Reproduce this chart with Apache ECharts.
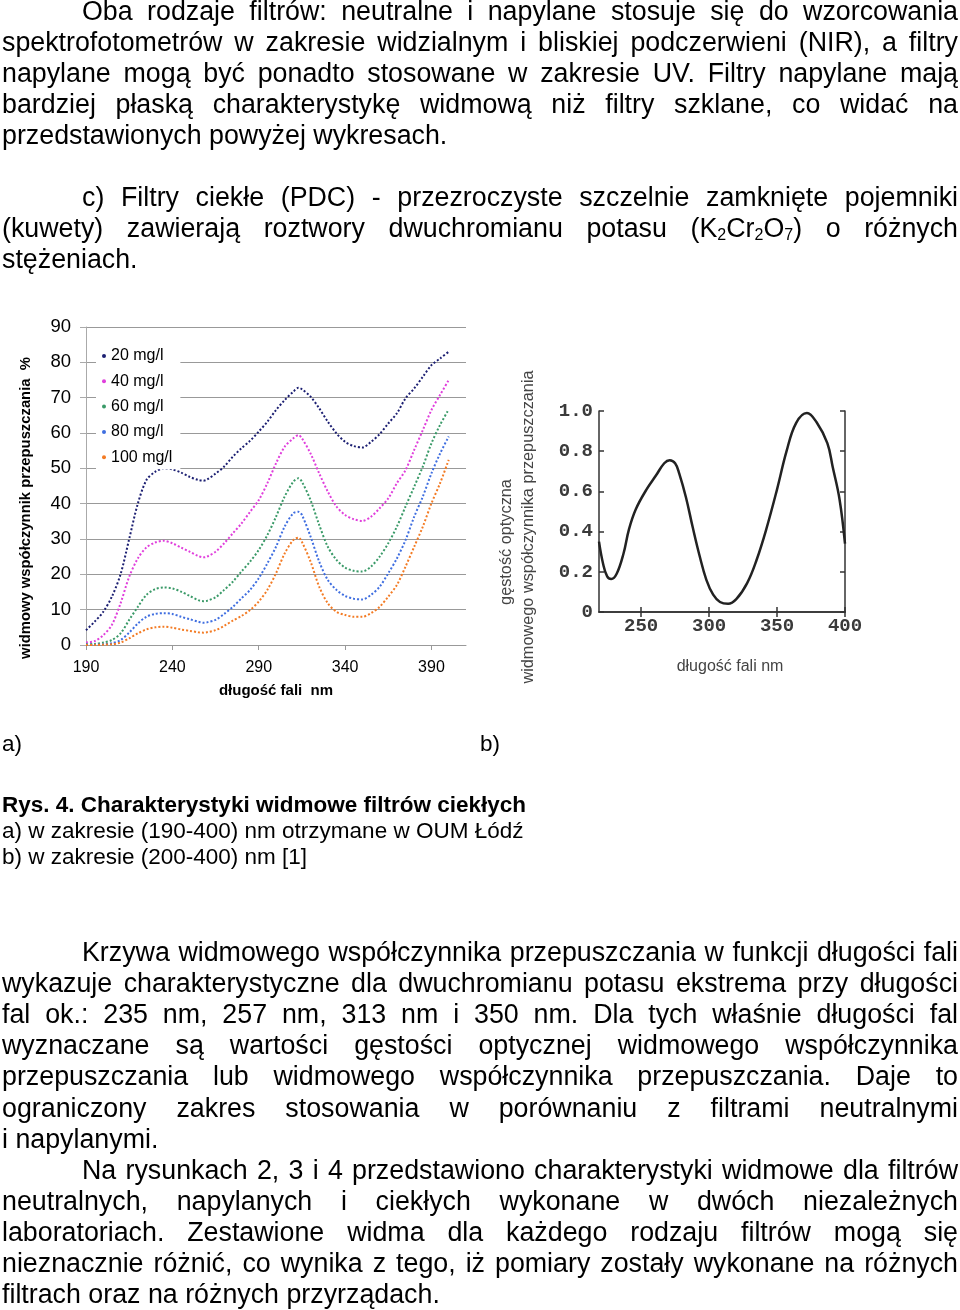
<!DOCTYPE html>
<html>
<head>
<meta charset="utf-8">
<script src="https://cdn.jsdelivr.net/npm/echarts@6/dist/echarts.min.js"></script>
<style>
html, body { margin: 0; padding: 0; background: #fff; }
#page { position: relative; width: 960px; height: 1310px; overflow: hidden; font-family: "Liberation Sans", Arial, sans-serif; color: #000; }
#chart { position: absolute; left: 0; top: 0; width: 960px; height: 1310px; }
.ln { position: absolute; left: 2px; width: 956px; font-size: 26.8px; line-height: 31px; text-align: justify; text-align-last: justify; }
.ln.ind { left: 82px; width: 876px; }
.ln.end { text-align-last: left; }
.cap { position: absolute; left: 2px; font-size: 22.5px; line-height: 26px; white-space: nowrap; }
sub { font-size: 16px; vertical-align: -3px; line-height: 0; }
</style>
</head>
<body>
<div id="page">
  <div id="chart"></div>

  <div class="ln ind" style="top:-4.5px">Oba rodzaje filtrów: neutralne i napylane stosuje się do wzorcowania</div>
  <div class="ln" style="top:26.5px">spektrofotometrów w zakresie widzialnym i bliskiej podczerwieni (NIR), a filtry</div>
  <div class="ln" style="top:57.5px">napylane mogą być ponadto stosowane w zakresie UV. Filtry napylane mają</div>
  <div class="ln" style="top:88.5px">bardziej płaską charakterystykę widmową niż filtry szklane, co widać na</div>
  <div class="ln end" style="top:119.5px">przedstawionych powyżej wykresach.</div>

  <div class="ln ind" style="top:181.5px">c) Filtry ciekłe (PDC) - przezroczyste szczelnie zamknięte pojemniki</div>
  <div class="ln" style="top:212.5px">(kuwety) zawierają roztwory dwuchromianu potasu (K<sub>2</sub>Cr<sub>2</sub>O<sub>7</sub>) o różnych</div>
  <div class="ln end" style="top:243.5px">stężeniach.</div>

  <div class="cap" style="top:731px">a)</div>
  <div class="cap" style="top:731px;left:480px">b)</div>
  <div class="cap" style="top:792px;font-weight:bold">Rys. 4. Charakterystyki widmowe filtrów ciekłych</div>
  <div class="cap" style="top:818px">a) w zakresie (190-400) nm otrzymane w OUM Łódź</div>
  <div class="cap" style="top:844px">b) w zakresie (200-400) nm [1]</div>

  <div class="ln ind" style="top:937px">Krzywa widmowego współczynnika przepuszczania w funkcji długości fali</div>
  <div class="ln" style="top:968.1px">wykazuje charakterystyczne dla dwuchromianu potasu ekstrema przy długości</div>
  <div class="ln" style="top:999.2px">fal ok.: 235 nm, 257 nm, 313 nm i 350 nm. Dla tych właśnie długości fal</div>
  <div class="ln" style="top:1030.3px">wyznaczane są wartości gęstości optycznej widmowego współczynnika</div>
  <div class="ln" style="top:1061.4px">przepuszczania lub widmowego współczynnika przepuszczania. Daje to</div>
  <div class="ln" style="top:1092.5px">ograniczony zakres stosowania w porównaniu z filtrami neutralnymi</div>
  <div class="ln end" style="top:1123.6px">i napylanymi.</div>
  <div class="ln ind" style="top:1154.7px">Na rysunkach 2, 3 i 4 przedstawiono charakterystyki widmowe dla filtrów</div>
  <div class="ln" style="top:1185.8px">neutralnych, napylanych i ciekłych wykonane w dwóch niezależnych</div>
  <div class="ln" style="top:1216.9px">laboratoriach. Zestawione widma dla każdego rodzaju filtrów mogą się</div>
  <div class="ln" style="top:1248px">nieznacznie różnić, co wynika z tego, iż pomiary zostały wykonane na różnych</div>
  <div class="ln end" style="top:1279.1px">filtrach oraz na różnych przyrządach.</div>
</div>

<script>
// a) spectra measured in OUM Lodz, transmittance % vs wavelength nm
const wavelengths = [190, 195, 200, 205, 210, 215, 220, 225, 230, 235, 240, 245, 250, 255, 258, 260, 265, 270, 275, 280, 285, 290, 295, 300, 305, 310, 313, 315, 320, 325, 330, 335, 340, 345, 350, 355, 360, 365, 370, 375, 380, 385, 390, 395, 400]
const t20 = [4.2, 6.6, 9.4, 13.7, 20, 30, 40, 46.7, 49, 50, 49.7, 48.8, 47.6, 46.7, 46.5, 46.8, 48.5, 50.5, 53.3, 55.7, 57.8, 60.4, 63.2, 66.5, 69.3, 71.7, 72.8, 72.4, 70.3, 67, 63.2, 59.9, 57.5, 56.3, 55.9, 57.5, 59.7, 62.7, 65.6, 69.8, 72.6, 75.9, 79.2, 81.1, 83]
const t40 = [0.7, 1.1, 2.8, 5.7, 11.8, 19.3, 24.5, 27.6, 29, 29.5, 28.8, 27.6, 26.4, 25.2, 24.8, 25, 26.4, 28.8, 31.6, 34.4, 37.7, 41, 45.8, 51.4, 56.1, 58.5, 59.4, 58.5, 54.2, 48.6, 43.4, 39.2, 36.8, 35.6, 35.1, 36.3, 38.7, 41.5, 45.8, 49.5, 55.2, 60.8, 66.5, 70.8, 75]
const t60 = [0.2, 0.3, 0.7, 1.4, 3.3, 7.1, 10.8, 14.2, 15.8, 16.3, 16, 15.1, 13.9, 12.7, 12.4, 12.5, 13.5, 15.6, 17.9, 20.8, 23.6, 26.9, 31.1, 36.3, 42, 46.2, 47.2, 46.2, 41, 34, 27.8, 24.1, 21.9, 21, 20.8, 22.2, 25, 28.8, 33.5, 39.2, 44.8, 50.5, 57.1, 62.3, 66.7]
const t80 = [0.1, 0.1, 0.2, 0.5, 1.4, 3.5, 6.1, 8, 8.8, 9, 8.8, 8, 7.3, 6.6, 6.3, 6.4, 7.1, 8.8, 10.8, 13.2, 15.6, 18.9, 23.1, 27.8, 33.5, 37.3, 37.7, 36.8, 30.7, 23.6, 18.4, 15.6, 13.9, 13.1, 12.9, 14.2, 16.5, 20.3, 24.5, 29.7, 36.3, 42, 48.6, 54.2, 59]
const t100 = [0, 0, 0.1, 0.2, 0.7, 1.9, 3.3, 4.4, 5, 5.2, 4.9, 4.4, 4, 3.6, 3.5, 3.6, 4.2, 5.4, 6.9, 8.2, 9.9, 12.3, 15.6, 20.3, 25.9, 29.7, 30.4, 29.2, 23.6, 16.5, 11.8, 9.4, 8.5, 8, 8, 9, 10.8, 13.7, 17, 22.2, 27.8, 33.5, 40.1, 45.8, 52.4]
const seriesNames = ['20 mg/l', '40 mg/l', '60 mg/l', '80 mg/l', '100 mg/l']
const seriesColors = ['#1c1f72', '#e03fdc', '#3a9a68', '#3f6ee0', '#f37b24']

// b) reference curve [1]
const wavelengthsB = [219, 222, 225, 228, 232, 237, 241, 246, 254, 261, 267, 271, 275, 278, 283, 288, 293, 298, 303, 308, 314, 320, 328, 335, 342, 350, 357, 364, 372, 379, 387, 391, 396, 400]
const densityB = [0.35, 0.24, 0.177, 0.164, 0.19, 0.29, 0.41, 0.51, 0.61, 0.68, 0.74, 0.755, 0.74, 0.69, 0.57, 0.42, 0.28, 0.16, 0.086, 0.05, 0.041, 0.064, 0.144, 0.26, 0.41, 0.61, 0.8, 0.94, 0.99, 0.945, 0.84, 0.72, 0.56, 0.34]
const xTicksB = [250, 300, 350, 400]

const fontFamily = '"Liberation Sans", Arial, sans-serif'
const monoFamily = '"Liberation Mono", "DejaVu Sans Mono", monospace'
const pairs = (xs, ys) => xs.map((x, i) => [x, ys[i]])

const chart = echarts.init(document.getElementById('chart'), null, { renderer: 'canvas' })

const seriesA = [t20, t40, t60, t80, t100].map((values, i) => ({
  name: seriesNames[i],
  type: 'line',
  xAxisIndex: 0,
  yAxisIndex: 0,
  smooth: 0.3,
  showSymbol: false,
  color: seriesColors[i],
  lineStyle: { type: [2, 2], width: 2, color: seriesColors[i] },
  data: pairs(wavelengths, values)
}))

const boxLine = { show: true, lineStyle: { color: '#333', width: 1.5 } }
const innerTick = (values) => ({ show: true, inside: true, length: 5, customValues: values, lineStyle: { color: '#333', width: 1.5 } })

chart.setOption({
  animation: false,
  textStyle: { fontFamily },
  grid: [
    { left: 86, top: 327, width: 380, height: 318 },
    { left: 599, top: 411, width: 246, height: 201 }
  ],
  legend: {
    orient: 'vertical',
    left: 96,
    top: 344,
    itemWidth: 4,
    itemHeight: 4,
    itemGap: 9.3,
    icon: 'circle',
    backgroundColor: '#fff',
    padding: [4, 8, 4, 6],
    textStyle: { fontSize: 16, lineHeight: 15, color: '#000', fontFamily },
    data: seriesNames
  },
  xAxis: [{
    gridIndex: 0,
    type: 'value',
    min: 190,
    max: 410,
    interval: 50,
    name: 'długość fali  nm',
    nameLocation: 'middle',
    nameGap: 38,
    nameTextStyle: { fontSize: 15, fontWeight: 'bold', color: '#000', fontFamily },
    axisLine: { show: true, lineStyle: { color: '#999' } },
    axisTick: { show: true, length: 5, lineStyle: { color: '#999' } },
    axisLabel: { showMaxLabel: false, fontSize: 16, color: '#000', margin: 15 },
    splitLine: { show: false }
  }, {
    gridIndex: 1,
    type: 'value',
    min: 219,
    max: 400,
    axisLine: boxLine,
    axisTick: innerTick(xTicksB),
    axisLabel: {
      customValues: xTicksB,
      fontSize: 19,
      fontWeight: 'bold',
      fontFamily: monoFamily,
      color: '#3a3a3a',
      margin: 5
    },
    splitLine: { show: false }
  }, {
    gridIndex: 1,
    type: 'value',
    position: 'top',
    min: 219,
    max: 400,
    axisLine: boxLine,
    axisTick: innerTick(xTicksB),
    axisLabel: { show: false },
    splitLine: { show: false }
  }],
  yAxis: [{
    gridIndex: 0,
    type: 'value',
    min: 0,
    max: 90,
    interval: 10,
    axisLine: { show: true, lineStyle: { color: '#aaa' } },
    axisTick: { show: true, length: 6, lineStyle: { color: '#aaa' } },
    axisLabel: { fontSize: 18.5, color: '#000', margin: 15 },
    splitLine: { lineStyle: { color: '#999' } }
  }, {
    gridIndex: 1,
    type: 'value',
    min: 0,
    max: 1,
    interval: 0.2,
    axisLine: boxLine,
    axisTick: { show: true, inside: true, length: 5, lineStyle: { color: '#333', width: 1.5 } },
    axisLabel: {
      fontSize: 19,
      fontWeight: 'bold',
      fontFamily: monoFamily,
      color: '#3a3a3a',
      margin: 6,
      formatter: v => v === 0 ? '0' : v.toFixed(1)
    },
    splitLine: { show: false }
  }, {
    gridIndex: 1,
    type: 'value',
    position: 'right',
    min: 0,
    max: 1,
    interval: 0.2,
    axisLine: boxLine,
    axisTick: { show: true, inside: true, length: 5, lineStyle: { color: '#333', width: 1.5 } },
    axisLabel: { show: false },
    splitLine: { show: false }
  }],
  graphic: [
    {
      type: 'text',
      x: 26,
      y: 508,
      rotation: Math.PI / 2,
      style: { text: 'widmowy współczynnik przepuszczania  %', font: 'bold 14.8px ' + fontFamily, fill: '#000', align: 'center', verticalAlign: 'middle' }
    },
    {
      type: 'text',
      x: 507,
      y: 542,
      rotation: Math.PI / 2,
      style: { text: 'gęstość optyczna', font: '16.3px ' + fontFamily, fill: '#444', align: 'center', verticalAlign: 'middle' }
    },
    {
      type: 'text',
      x: 529,
      y: 527,
      rotation: Math.PI / 2,
      style: { text: 'widmowego współczynnika przepuszczania', font: '16.3px ' + fontFamily, fill: '#444', align: 'center', verticalAlign: 'middle' }
    },
    {
      type: 'text',
      x: 730,
      y: 667,
      style: { text: 'długość fali nm', font: '16px ' + fontFamily, fill: '#444', align: 'center', verticalAlign: 'middle' }
    }
  ],
  series: seriesA.concat([{
    name: 'b',
    type: 'line',
    xAxisIndex: 1,
    yAxisIndex: 1,
    smooth: 0.4,
    showSymbol: false,
    lineStyle: { color: '#222', width: 2.5 },
    data: pairs(wavelengthsB, densityB)
  }])
})
</script>
</body>
</html>
